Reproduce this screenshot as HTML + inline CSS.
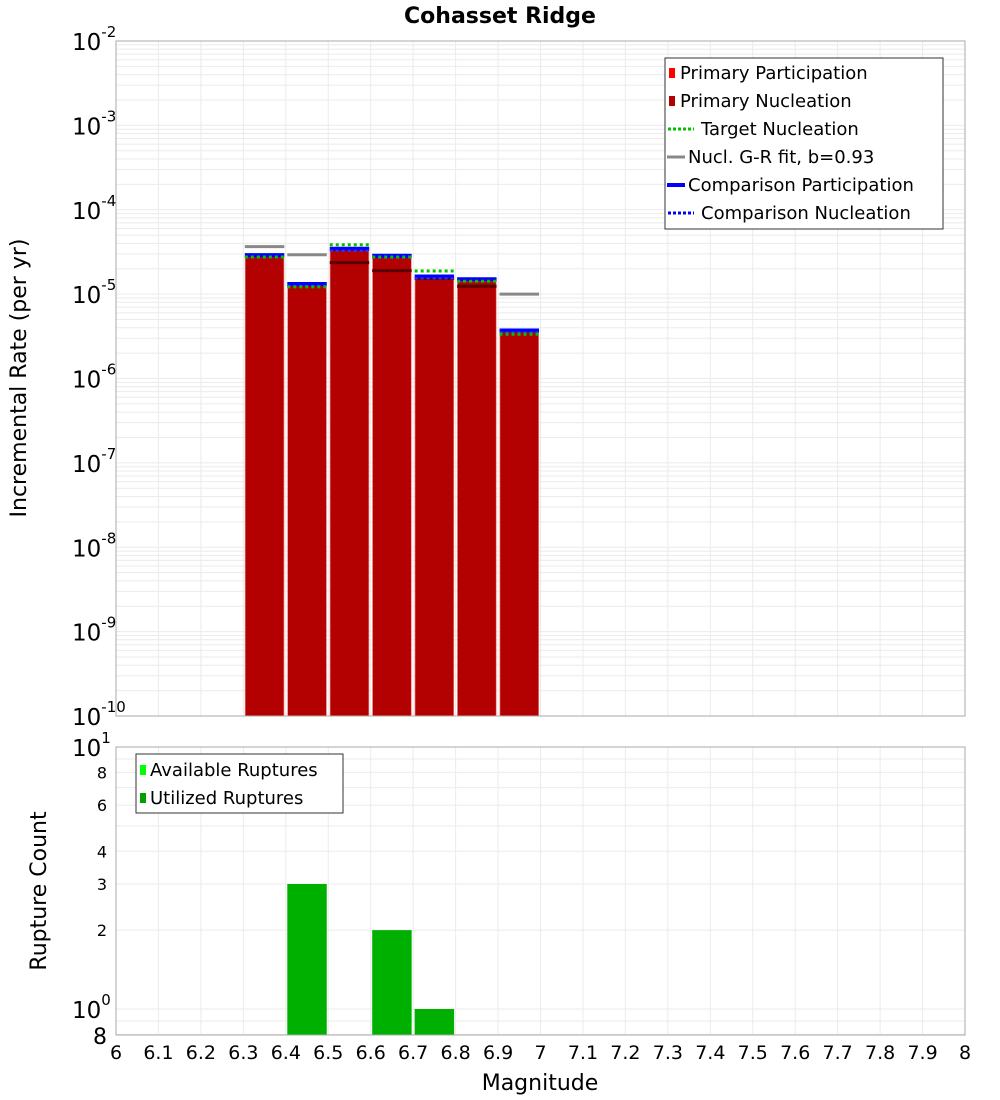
<!DOCTYPE html>
<html><head><meta charset="utf-8"><style>
body{margin:0;background:#fff;}
svg{display:block;font-family:"DejaVu Sans","Liberation Sans",sans-serif;}
</style></head><body>
<svg id="c" width="1000" height="1100" xmlns="http://www.w3.org/2000/svg"></svg>
<script>
const binStarts=[6.3,6.4,6.5,6.6,6.7,6.8,6.9];
const nuclRates=[2.75e-5,1.27e-5,3.3e-5,2.72e-5,1.55e-5,1.42e-5,3.5e-6];
const partRates=[2.75e-5,1.27e-5,3.3e-5,2.72e-5,1.55e-5,1.42e-5,3.5e-6];
const compPart=[2.9e-5,1.32e-5,3.45e-5,2.85e-5,1.62e-5,1.5e-5,3.7e-6];
const targetNucl=[2.75e-5,1.22e-5,3.85e-5,2.75e-5,1.88e-5,1.42e-5,3.35e-6];
const grFit=[3.65e-5,2.93e-5,2.36e-5,1.9e-5,1.53e-5,1.24e-5,1.0e-5];
const countBins=[6.4,6.6,6.7];
const countVals=[3,2,1];
const xTicks=[6,6.1,6.2,6.3,6.4,6.5,6.6,6.7,6.8,6.9,7,7.1,7.2,7.3,7.4,7.5,7.6,7.7,7.8,7.9,8];
const yExps=[-2,-3,-4,-5,-6,-7,-8,-9,-10];
const bottomSmallTicks=[8,6,4,3,2];

const S=document.getElementById('c'),NS='http://www.w3.org/2000/svg';
function mk(t,a,p,txt){const e=document.createElementNS(NS,t);for(const k in a)e.setAttribute(k,a[k]);if(txt!==undefined)e.textContent=txt;(p||S).appendChild(e);return e;}
const L=116,R=965,T1=41,B1=716,T2=747,B2=1035;
const X=v=>L+(v-6)/2*(R-L);
const Y1=v=>T1+(-2-Math.log10(v))*(B1-T1)/8;
const Y2=v=>1009-Math.log10(v)*262;

// title
const tt=mk('text',{x:500,y:23,'text-anchor':'middle','font-size':22,'font-weight':'bold'},S,'Cohasset Ridge');


// grids top
const g1=mk('g',{stroke:'#ebebeb','stroke-width':1});

for(let e=-10;e<-2;e++)for(let m=1;m<10;m++){const y=Y1(m*Math.pow(10,e));mk('line',{x1:L,x2:R,y1:y,y2:y},g1);}
xTicks.forEach(t=>{const x=X(t);mk('line',{x1:x,x2:x,y1:T1,y2:B1},g1);});
// grids bottom
const g2=mk('g',{stroke:'#ebebeb','stroke-width':1});

[0.8,0.9,1,2,3,4,5,6,7,8,9,10].forEach(v=>{const y=Y2(v);mk('line',{x1:L,x2:R,y1:y,y2:y},g2);});
xTicks.forEach(t=>{const x=X(t);mk('line',{x1:x,x2:x,y1:T2,y2:B2},g2);});

// top bars
const gb=mk('g',{});
binStarts.forEach((b,i)=>{
 const x0=X(b)+1.5,x1=X(b+0.1)-1.5;
 const pr=mk('rect',{x:x0,y:Y1(partRates[i]),width:x1-x0,height:B1-Y1(partRates[i]),fill:'#f08080'},gb);
 
 const nr=mk('rect',{x:x0+0.7,y:Y1(nuclRates[i]),width:x1-x0-1.4,height:B1-Y1(nuclRates[i]),fill:'#b30000'},gb);
 
 const gy=Y1(grFit[i]);const inside=grFit[i]<nuclRates[i];
 const gl=mk('line',{x1:x0,x2:x1,y1:gy,y2:gy,stroke:inside?'#5a0000':'#888','stroke-width':3},gb);
 
 const cy=Y1(compPart[i]);
 const cl=mk('line',{x1:x0,x2:x1,y1:cy,y2:cy,stroke:'#0000ff','stroke-width':4},gb);
 
 const cn=mk('line',{x1:x0,x2:x1,y1:cy+2,y2:cy+2,stroke:'#3333ff','stroke-width':2,'stroke-dasharray':'3,3'},gb);
 
 const ty=Y1(targetNucl[i]);
 const tl=mk('line',{x1:x0,x2:x1,y1:ty,y2:ty,stroke:'#00c000','stroke-width':3,'stroke-dasharray':'3,3'},gb);
 
});

// bottom bars
countBins.forEach((b,i)=>{
 const x0=X(b)+1.5,x1=X(b+0.1)-1.5,y=Y2(countVals[i]);
 const r=mk('rect',{x:x0,y:y,width:x1-x0,height:B2-y,fill:'#00b000'});
 
});

// frames
const f1=mk('rect',{x:L,y:T1,width:R-L,height:B1-T1,fill:'none',stroke:'#aaa'});

const f2=mk('rect',{x:L,y:T2,width:R-L,height:B2-T2,fill:'none',stroke:'#aaa'});


// top y labels
yExps.forEach(e=>{
 const y=Y1(Math.pow(10,e));
 const t=mk('text',{x:72,y:y+9,'font-size':23},S);
 
 mk('tspan',{},t,'10');mk('tspan',{dy:-13,'font-size':15},t,String(e));
});
// bottom y labels
[[1,10],[0,1]].forEach(([e,v])=>{
 const t=mk('text',{x:72,y:Y2(v)+9,'font-size':23},S);
 
 mk('tspan',{},t,'10');mk('tspan',{dy:-13,'font-size':15},t,String(e));
});
bottomSmallTicks.forEach(v=>{
 const t=mk('text',{x:107,y:Y2(v)+6,'font-size':16,'text-anchor':'end'},S,String(v));
 
});
const t8=mk('text',{x:107,y:B2+9,'font-size':22,'text-anchor':'end'},S,'8');


// x labels
xTicks.forEach(v=>{
 const t=mk('text',{x:X(v),y:1059,'font-size':19,'text-anchor':'middle'},S,String(v));
 
});
const xt=mk('text',{x:540,y:1090,'font-size':22,'text-anchor':'middle'},S,'Magnitude');

const yt=mk('text',{x:0,y:0,'font-size':22,'text-anchor':'middle',transform:'translate(26,378) rotate(-90)'},S,'Incremental Rate (per yr)');

const yt2=mk('text',{x:0,y:0,'font-size':22,'text-anchor':'middle',transform:'translate(46,891) rotate(-90)'},S,'Rupture Count');


// legend top
const lg=mk('g',{});
mk('rect',{x:665,y:58,width:278,height:171,fill:'#fff',stroke:'#333'},lg);
const items=[['Primary Participation','sq','#ff0000'],['Primary Nucleation','sq','#b30000'],['Target Nucleation','dot','#00c000'],['Nucl. G-R fit, b=0.93','line','#888'],['Comparison Participation','line','#0000ff'],['Comparison Nucleation','dot','#0000ff']];
items.forEach((it,i)=>{
 const y=73+i*28;const g=mk('g',{},lg);
 
 let tx=680;
 if(it[1]==='sq'){mk('rect',{x:669,y:y-5,width:6,height:10,fill:it[2]},g);}
 else if(it[1]==='dot'){mk('line',{x1:668,x2:694,y1:y,y2:y,stroke:it[2],'stroke-width':3,'stroke-dasharray':'3,2'},g);tx=701;}
 else {mk('line',{x1:667,x2:685,y1:y,y2:y,stroke:it[2],'stroke-width':it[2]==='#888'?3:4},g);tx=688;}
 mk('text',{x:tx,y:y+6,'font-size':18},g,it[0]);
});
// legend bottom
const lb=mk('g',{});
mk('rect',{x:136,y:754,width:207,height:59,fill:'#fff',stroke:'#333'},lb);
[['Available Ruptures','#00ff00'],['Utilized Ruptures','#00a000']].forEach((it,i)=>{
 const y=770+i*28;const g=mk('g',{},lb);
 
 mk('rect',{x:140,y:y-5,width:6,height:10,fill:it[1]},g);
 mk('text',{x:150,y:y+6,'font-size':18},g,it[0]);
});
</script>
</body></html>
